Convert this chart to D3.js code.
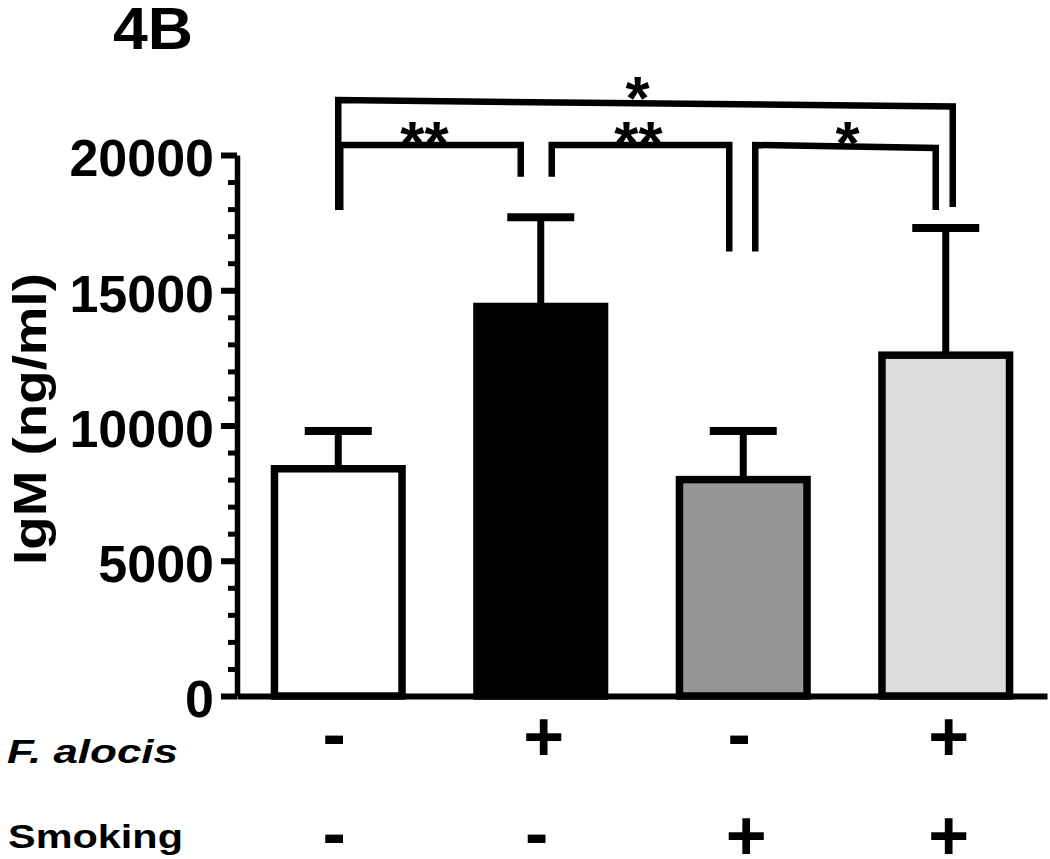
<!DOCTYPE html>
<html>
<head>
<meta charset="utf-8">
<title>4B IgM</title>
<script src="https://d3js.org/d3.v7.min.js"></script>
<style>
body { margin: 0; padding: 0; background: #fff; }
text { font-family: "Liberation Sans", Arial, sans-serif; font-weight: bold; fill: #000; }
</style>
</head>
<body>
<div id="chart"></div>
<script>

// data
var groups = ['control', 'falocis', 'smoking', 'falocis_smoking'];
var means = [8400, 14400, 8000, 12600];
var sems = [1400, 3300, 1800, 4700];
var faSigns = ['-', '+', '-', '+'];
var smokeSigns = ['-', '-', '+', '+'];
var majorTicks = [0, 5000, 10000, 15000, 20000];
var minorTicks = d3.range(0, 20001, 1000);
// significance brackets: group pair, bar heights (data units) and leg ends
var brackets = [
  {a: 0, b: 3, yl: 22030, yr: 21790, legL: 17970, legR: 18080, label: '*'},
  {a: 0, b: 1, yl: 20370, yr: 20370, legL: 17970, legR: 19200, label: '**'},
  {a: 1, b: 2, yl: 20370, yr: 20370, legL: 19200, legR: 16430, label: '**'},
  {a: 2, b: 3, yl: 20370, yr: 20260, legL: 16430, legR: 17970, label: '*'}
];

// styling / layout
var fills = ['#ffffff', '#000000', '#959595', '#dcdcdc'];
var legNudge = [[0, 7], [2, -20], [11, -14], [12, -10]];
var starNudge = [-8, -6, -2, 2];

var svg = d3.select('#chart')
  .append('svg')
    .attr('width', 1050)
    .attr('height', 859);

var y = d3.scaleLinear()
    .domain([0, 20000])
    .range([696, 155]);

var x = d3.scaleBand()
    .domain(groups)
    .range([237, 1047])
    .paddingInner(0.37)
    .paddingOuter(0.185);

function cx(i) { return x(groups[i]) + x.bandwidth() / 2; }

// minor ticks
svg.append('g')
    .attr('transform', 'translate(237,0)')
    .call(d3.axisLeft(y).tickValues(minorTicks).tickSize(9).tickFormat('').tickSizeOuter(0))
    .call(function(g) { g.select('.domain').remove(); })
    .selectAll('line').attr('stroke-width', 5);

// major ticks + labels
var yAxis = svg.append('g')
    .attr('transform', 'translate(237,0)')
    .call(d3.axisLeft(y).tickValues(majorTicks).tickSize(16).tickPadding(7).tickSizeOuter(0).tickFormat(d3.format('d')));
yAxis.selectAll('line').attr('stroke-width', 6);
yAxis.select('.domain').attr('stroke-width', 5.5);
yAxis.selectAll('text')
    .attr('dy', '0.4em')
    .style('font-size', '52px')
    .style('font-family', '"Liberation Sans", Arial, sans-serif')
    .style('font-weight', 'bold');

// x baseline
var xAxis = svg.append('g')
    .attr('transform', 'translate(0,696)')
    .call(d3.axisBottom(x).tickSize(0).tickFormat('').tickSizeOuter(0));
xAxis.select('.domain').attr('stroke-width', 6);

// error bars
var eb = svg.append('g').selectAll('g')
  .data(groups)
  .enter().append('g');
eb.append('line')
    .attr('x1', function(d, i) { return cx(i); })
    .attr('x2', function(d, i) { return cx(i); })
    .attr('y1', function(d, i) { return y(means[i]); })
    .attr('y2', function(d, i) { return y(means[i] + sems[i]); })
    .attr('stroke', '#000')
    .attr('stroke-width', 7);
eb.append('line')
    .attr('x1', function(d, i) { return cx(i) - 33.5; })
    .attr('x2', function(d, i) { return cx(i) + 33.5; })
    .attr('y1', function(d, i) { return y(means[i] + sems[i]); })
    .attr('y2', function(d, i) { return y(means[i] + sems[i]); })
    .attr('stroke', '#000')
    .attr('stroke-width', 8);

// bars
svg.append('g').selectAll('rect')
  .data(groups)
  .enter().append('rect')
    .attr('x', function(d) { return x(d); })
    .attr('width', x.bandwidth())
    .attr('y', function(d, i) { return y(means[i]); })
    .attr('height', function(d, i) { return y(0) - y(means[i]); })
    .attr('fill', function(d, i) { return fills[i]; })
    .attr('stroke', '#000')
    .attr('stroke-width', 7.5);

// brackets
var br = svg.append('g').selectAll('g')
  .data(brackets)
  .enter().append('g');
br.append('path')
    .attr('d', function(d, i) {
      var xl = cx(d.a) + legNudge[i][0], xr = cx(d.b) + legNudge[i][1];
      return 'M' + xl + ',' + y(d.legL) + 'V' + y(d.yl) + 'L' + xr + ',' + y(d.yr) + 'V' + y(d.legR);
    })
    .attr('fill', 'none')
    .attr('stroke', '#000')
    .attr('stroke-width', 6.5);
br.append('text')
    .attr('x', function(d, i) { return (cx(d.a) + legNudge[i][0] + cx(d.b) + legNudge[i][1]) / 2 + starNudge[i]; })
    .attr('y', function(d) { return y(Math.max(d.yl, d.yr)) + 19; })
    .attr('text-anchor', 'middle')
    .style('font-size', '62px')
    .text(function(d) { return d.label; });

// title
svg.append('text')
    .attr('x', 113)
    .attr('y', 49)
    .attr('textLength', 80)
    .attr('lengthAdjust', 'spacingAndGlyphs')
    .style('font-size', '60px')
    .text('4B');

// y title
svg.append('text')
    .attr('transform', 'translate(46,419) rotate(-90)')
    .attr('text-anchor', 'middle')
    .attr('textLength', 292)
    .attr('lengthAdjust', 'spacingAndGlyphs')
    .style('font-size', '47px')
    .text('IgM (ng/ml)');

// treatment rows
svg.append('text')
    .attr('x', 7)
    .attr('y', 763)
    .attr('textLength', 171)
    .attr('lengthAdjust', 'spacingAndGlyphs')
    .style('font-size', '33px')
    .style('font-style', 'italic')
    .text('F. alocis');
svg.append('text')
    .attr('x', 8)
    .attr('y', 848)
    .attr('textLength', 175)
    .attr('lengthAdjust', 'spacingAndGlyphs')
    .style('font-size', '34px')
    .text('Smoking');

function signRow(signs, yc) {
  svg.append('g').selectAll('text')
    .data(signs)
    .enter().append('text')
      .attr('x', function(d, i) { return cx(i) + (d == '-' ? -4 : 3); })
      .attr('y', function(d) { return d == '+' ? yc + 22 : yc + 19; })
      .attr('text-anchor', 'middle')
      .style('font-size', '70px')
      .text(function(d) { return d; });
}
signRow(faSigns, 739);
signRow(smokeSigns, 838);

</script>
</body>
</html>
